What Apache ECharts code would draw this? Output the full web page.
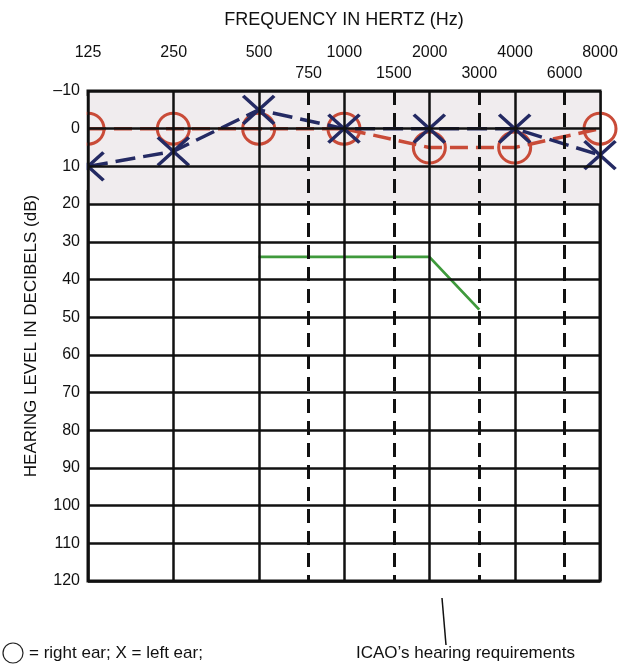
<!DOCTYPE html>
<html>
<head>
<meta charset="utf-8">
<script src="https://cdn.jsdelivr.net/npm/echarts@6/dist/echarts.min.js"></script>
<style>
html,body{margin:0;padding:0;background:#fff;}
#chart{width:636px;height:666px;}
</style>
</head>
<body>
<div id="chart"></div>
<script>
// Data
const freqs = [125, 250, 500, 1000, 2000, 4000, 8000];
const rightEar = [0, 0, 0, 0, 5, 5, 0];
const leftEar = [10, 6, -5, 0, 0, 0, 7];
const icaoFreqs = [500, 2000, 3000];
const icaoLevels = [34, 34, 48];
const midFreqs = [750, 1500, 3000, 6000];
const shadedRange = [-10, 20];
const yMin = -10, yMax = 120, yStep = 10;

const FONT = '"Liberation Sans", Arial, sans-serif';
const RED = '#c94b38';
const NAVY = '#242a63';
const GREEN = '#3f9a3c';

function nearestFreqLabel(v) {
  let best = freqs[0], bd = Infinity;
  freqs.forEach(f => {
    const d = Math.abs(Math.log2(v) - Math.log2(f));
    if (d < bd) { bd = d; best = f; }
  });
  return String(best);
}

const chart = echarts.init(document.getElementById('chart'), null, {renderer: 'canvas'});

const option = {
  animation: false,
  backgroundColor: '#fff',
  textStyle: {fontFamily: FONT},
  grid: {
    left: 88, right: 36, top: 91, bottom: 85,
    show: true, borderColor: '#111', borderWidth: 3, backgroundColor: 'transparent'
  },
  xAxis: {
    type: 'log', logBase: 2, min: 125, max: 8000, interval: 1, z: 10,
    position: 'top',
    name: 'FREQUENCY IN HERTZ (Hz)', nameLocation: 'middle', nameGap: 62,
    nameTextStyle: {fontSize: 18, color: '#111', fontFamily: FONT},
    axisLine: {show: false}, axisTick: {show: false},
    axisLabel: {fontSize: 16, color: '#111', margin: 30, fontFamily: FONT,
      formatter: v => nearestFreqLabel(v)},
    splitLine: {show: true, lineStyle: {color: '#111', width: 2.5}}
  },
  yAxis: {
    type: 'value', inverse: true, min: yMin, max: yMax, interval: yStep, z: 10,
    name: 'HEARING LEVEL IN DECIBELS (dB)', nameLocation: 'middle', nameGap: 48,
    nameTextStyle: {fontSize: 17, color: '#111', fontFamily: FONT},
    axisLine: {show: false}, axisTick: {show: false},
    axisLabel: {fontSize: 16, color: '#111', margin: 8, fontFamily: FONT,
      formatter: v => v < 0 ? '\u2013' + Math.abs(v) : String(v)},
    splitLine: {show: true, lineStyle: {color: '#111', width: 2.5}}
  },
  series: [
    {
      name: 'Shade', type: 'line', z: 1,
      data: [],
      markArea: {
        silent: true,
        itemStyle: {color: '#f0ecee'},
        data: [[{yAxis: shadedRange[0]}, {yAxis: shadedRange[1]}]]
      }
    },
    {
      name: 'ICAO', type: 'line', z: 2,
      data: icaoFreqs.map((f, i) => [f, icaoLevels[i]]),
      symbol: 'none',
      lineStyle: {color: GREEN, width: 2.8},
      markLine: {
        silent: true, symbol: ['none', 'none'],
        lineStyle: {color: '#111', width: 3, type: [14, 8]},
        label: {show: true, position: 'start', distance: 9, fontSize: 16, color: '#111',
          fontFamily: FONT, formatter: p => String(p.value)},
        data: midFreqs.map(f => ({xAxis: f}))
      }
    },
    {
      name: 'Right ear', type: 'line', z: 3, clip: false,
      data: freqs.map((f, i) => [f, rightEar[i]]),
      symbol: 'circle', symbolSize: [32, 31],
      itemStyle: {color: 'rgba(0,0,0,0)', borderColor: RED, borderWidth: 3},
      lineStyle: {color: RED, width: 3.5, type: [18, 8]}
    },
    {
      name: 'Left ear', type: 'line', z: 4, clip: false,
      data: freqs.map((f, i) => [f, leftEar[i]]),
      symbol: 'path://M0,0L30,27M30,0L0,27', symbolSize: [31, 28],
      itemStyle: {color: 'rgba(0,0,0,0)', borderColor: NAVY, borderWidth: 3.5},
      lineStyle: {color: NAVY, width: 3.5, type: [20, 8]}
    }
  ],
  graphic: [
    {type: 'rect', z: 5, shape: {x: 56, y: 96, width: 30.5, height: 94}, style: {fill: '#fff'}},
    {type: 'circle', z: 6, shape: {cx: 13, cy: 653, r: 10}, style: {fill: 'none', stroke: '#222', lineWidth: 1.2}},
    {type: 'text', z: 6, x: 29, y: 653, style: {text: '= right ear; X = left ear;', font: '17px ' + FONT, fill: '#111', verticalAlign: 'middle'}},
    {type: 'line', z: 6, shape: {x1: 442, y1: 598, x2: 446, y2: 645}, style: {stroke: '#111', lineWidth: 1.5}},
    {type: 'text', z: 6, x: 356, y: 653, style: {text: 'ICAO\u2019s hearing requirements', font: '17px ' + FONT, fill: '#111', verticalAlign: 'middle'}}
  ]
};
chart.setOption(option);
</script>
</body>
</html>
